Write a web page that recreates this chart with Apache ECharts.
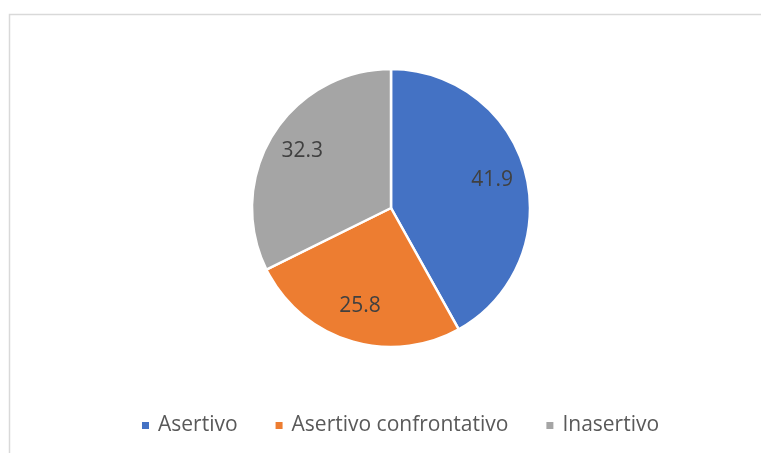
<!DOCTYPE html>
<html><head><meta charset="utf-8">
<script src="https://cdn.jsdelivr.net/npm/echarts@6/dist/echarts.min.js"></script>
<style>html,body{margin:0;padding:0;background:#fff}#c{width:761px;height:453px}</style>
</head><body><div id="c"></div>
<script>
const categories = ['Asertivo', 'Asertivo confrontativo', 'Inasertivo'];
const values = [41.9, 25.8, 32.3];
const colors = ['#4472C4', '#ED7D31', '#A5A5A5'];

const data = categories.map((n, i) => ({ name: n, value: values[i], itemStyle: { color: colors[i] } }));
const chart = echarts.init(document.getElementById('c'), null, { renderer: 'canvas' });
const font = '"Open Sans", "Noto Sans", sans-serif';
chart.setOption({
  animation: false,
  backgroundColor: '#fff',
  graphic: [{
    type: 'rect', silent: true,
    shape: { x: 9.5, y: 14.5, width: 800, height: 500 },
    style: { fill: 'none', stroke: '#D9D9D9', lineWidth: 1.5 }
  }],
  legend: {
    top: 410, left: 135,
    itemWidth: 9, itemHeight: 9, itemGap: 36,
    icon: 'rect',
    textStyle: { fontFamily: font, fontSize: 21, color: '#595959', padding: [0, 0, 0, 3] },
    data: categories
  },
  series: [{
    type: 'pie',
    center: [391, 208], radius: 139,
    startAngle: 90, clockwise: true,
    itemStyle: { borderColor: '#fff', borderWidth: 2.5 },
    label: { show: false }, labelLine: { show: false },
    data: data
  }, {
    type: 'pie', silent: true,
    center: [391, 206], radius: [64, 139],
    startAngle: 90, clockwise: true,
    itemStyle: { color: 'rgba(0,0,0,0)', opacity: 0 },
    label: { show: true, position: 'inside', formatter: p => p.value.toFixed(1),
             fontFamily: font, fontSize: 21, color: '#404040', opacity: 1 },
    labelLine: { show: false },
    data: categories.map((n, i) => ({ name: n, value: values[i] }))
  }]
});
</script></body></html>
